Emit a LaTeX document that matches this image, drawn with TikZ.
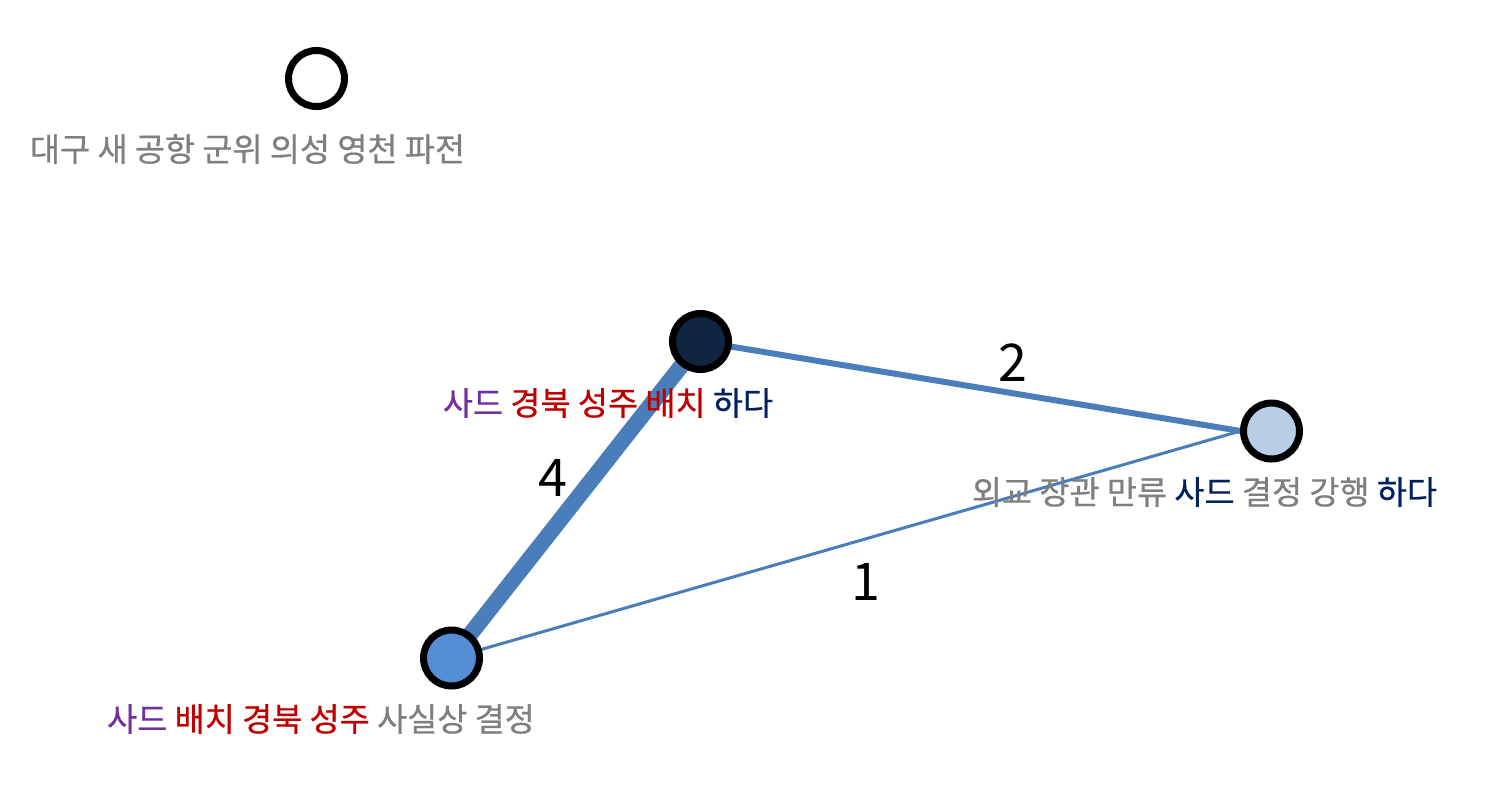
\documentclass[tikz,border=0pt]{standalone}
\usepackage{fontspec}
\setmainfont{Noto Sans CJK KR}
\newfontfamily\lblfont[FakeBold=0.6]{Noto Sans CJK KR}
\definecolor{edgeblue}{HTML}{4A7EBB}
\definecolor{txtgray}{HTML}{7F7F7F}
\definecolor{txtpurple}{HTML}{7030A0}
\definecolor{txtred}{HTML}{C00000}
\definecolor{txtnavy}{HTML}{002060}
\definecolor{fdark}{HTML}{10253F}
\definecolor{flight}{HTML}{B9CDE5}
\definecolor{fblue}{HTML}{558ED5}
\begin{document}
\begin{tikzpicture}[x=1pt,y=-1pt,
  vert/.style={circle,draw=black,line width=7pt,minimum size=56pt,inner sep=0pt,outer sep=3.5pt},
  lbl/.style={inner sep=0pt,font=\lblfont\fontsize{32.7}{38}\selectfont},
  wlbl/.style={inner sep=0pt,font=\fontsize{52}{60}\selectfont,text=black},
  link/.style={draw=edgeblue}]
\useasboundingbox (0,0) rectangle (1485,796);
\fill[white] (0,0) rectangle (1485,796);
% coordinates for node centres
\coordinate (pa) at (316.5,78.5);
\coordinate (pb) at (700.5,341.5);
\coordinate (pc) at (1271.5,431);
\coordinate (pd) at (451.5,658);
\coordinate (cw) at (1240.5,431);
% edges
\draw[link,line width=16pt] (pd) -- (pb);
\draw[link,line width=6pt] (pb) -- (cw);
\draw[link,line width=3pt] (pd) -- (cw);
% vertices
\node[vert,fill=white] (va) at (pa) {};
\node[vert,fill=fdark] (vb) at (pb) {};
\node[vert,fill=flight] (vc) at (pc) {};
\node[vert,fill=fblue] (vd) at (pd) {};
% vertex labels
\node[lbl,text=txtgray] (la) at (247.5,149) {대구 새 공항 군위 의성 영천 파전};
\node[lbl] (lb) at (608,403) {\textcolor{txtpurple}{사드} \textcolor{txtred}{경북 성주 배치} \textcolor{txtnavy}{하다}};
\node[lbl] (lc) at (1204.5,492) {\textcolor{txtgray}{외교 장관 만류} \textcolor{txtnavy}{사드} \textcolor{txtgray}{결정 강행} \textcolor{txtnavy}{하다}};
\node[lbl] (ld) at (321,719) {\textcolor{txtpurple}{사드} \textcolor{txtred}{배치 경북 성주} \textcolor{txtgray}{사실상 결정}};
% edge weights
\node[wlbl] (w4) at (553,478) {4};
\node[wlbl] (w2) at (1013,363) {2};
\node[wlbl] (w1) at (866,582) {1};
\end{tikzpicture}
\end{document}
